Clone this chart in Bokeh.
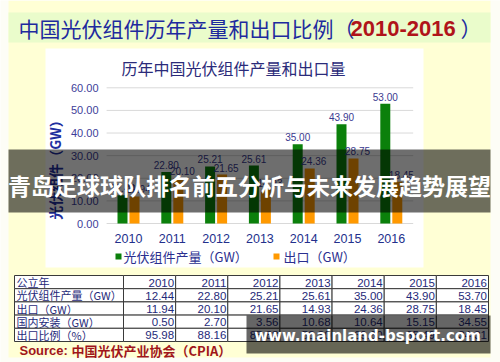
import math
from bokeh.plotting import figure
from bokeh.models import ColumnDataSource, Range1d, BoxAnnotation, Label
from bokeh.transform import dodge
from bokeh.core.properties import value
from bokeh.embed import file_html
from bokeh.resources import INLINE

# ---------------- data ----------------
years = ["2010", "2011", "2012", "2013", "2014", "2015", "2016"]
production = [12.44, 22.80, 25.21, 25.61, 35.00, 43.90, 53.00]   # bars as drawn in chart
export = [11.94, 20.10, 21.65, 14.93, 24.36, 28.75, 18.45]
y_ticks = [0, 10, 20, 30, 40, 50, 60]

main_title = "中国光伏组件历年产量和出口比例"
main_title_years = "2010-2016"
chart_title = "历年中国光伏组件产量和出口量"
y_title = "光伏组件（GW）"
legend_labels = ["光伏组件产量（GW）", "出口（GW）"]
banner_text = "青岛足球球队排名前五分析与未来发展趋势展望"
watermark_text = "www.mainland-bsport.com"
source_prefix = "Source:"
source_text = "中国光伏产业协会（CPIA）"

table_row_labels = ["公立年", "光伏组件产量（GW）", "出口（GW）", "国内安装（GW）", "出口比例（%）"]
table_years = ["2010", "2011", "2012", "2013", "2014", "2015", "2016"]
table_production = ["12.44", "22.80", "25.21", "25.61", "35.00", "43.90", "53.70"]
table_export = ["11.94", "20.10", "21.65", "14.93", "24.36", "28.75", "18.45"]
table_install = ["0.50", "2.70", "3.56", "10.68", "10.64", "15.15", "34.55"]
table_ratio = ["95.98", "88.16", "85.88", "58.30", "69.60", "65.49", "34.31"]

# ---------------- styles / layout ----------------
YELLOW = "#FFFFD5"
PALE = "#FDFDF6"
BAND_GREEN = "#EAFCCB"
GREEN = "#0B800B"
ORANGE = "#FF9900"
NAVY = "#2B2F8F"
CJK = "Noto Sans CJK SC"
LAT = "Liberation Sans"

W, H = 500, 362
# chart geometry (pixels): first category centre, category step, zero line, px per unit
X0, STEP = 128.0, 43.8
Y0, PPU = 223.0, 135.7 / 60.0

xs = list(range(len(years)))
src = ColumnDataSource(dict(
    x=xs, production=production, export=export,
    plab=["%.2f" % v for v in production],
    elab=["%.2f" % v for v in export],
))

p = figure(width=W, height=H,
           x_range=Range1d(-X0 / STEP, (W - X0) / STEP),
           y_range=Range1d(-(H - Y0) / PPU, Y0 / PPU),
           x_axis_location=None, y_axis_location=None,
           output_backend="svg", toolbar_location=None, min_border=0)
p.background_fill_color = PALE
p.border_fill_color = PALE
p.outline_line_color = None
p.grid.visible = False


def box(l, r, t, b, color, alpha=1.0, level="image", line_color=None, line_width=1):
    bx = BoxAnnotation(left=l, right=r, top=t, bottom=b,
                       left_units="canvas", right_units="canvas",
                       top_units="canvas", bottom_units="canvas",
                       fill_color=color, fill_alpha=alpha,
                       line_color=line_color, line_width=line_width,
                       line_alpha=1.0, level=level)
    p.add_layout(bx)
    return bx


def label(x, y, text, size, color, font=CJK, style="normal", align="left",
          baseline="middle", angle=0.0, level="annotation", y_units="canvas"):
    lb = Label(x=x, y=y, x_units="canvas", y_units=y_units, text=text,
               text_font=font, text_font_size="%spx" % size, text_font_style=style,
               text_color=color, text_align=align, text_baseline=baseline,
               angle=angle, level=level)
    p.add_layout(lb)
    return lb


# background decorations
box(8, 490, 0, 357, YELLOW)
box(8, 490, 12, 42, BAND_GREEN)
box(45, 423, 48, 267, "white")

# main title
label(18, 27, main_title, 21, "#1E2A9E")
label(333, 27, "（", 21, "#1E2A9E")
label(350, 28, main_title_years, 22, "#B0141A", font=LAT, style="bold")
label(460, 27, "）", 21, "#1E2A9E")

# chart title
label(233, 67, chart_title, 16, "#2B2B7A", align="center")

# grid lines (from tick values, spanning the categories)
p.segment(x0=[xs[0] - 0.5] * len(y_ticks), x1=[xs[-1] + 0.5] * len(y_ticks),
          y0=y_ticks, y1=y_ticks, line_color="#D9D9D9", line_width=1, level="underlay")

# y tick labels
for t in y_ticks:
    label(98, t, "%.2f" % t, 11, "#3D3D99", font=LAT, align="right", y_units="data")

# bars
p.vbar(x=dodge("x", -0.137), top="production", width=0.228,
       source=src, fill_color=GREEN, line_color=None)
p.vbar(x=dodge("x", 0.137), top="export", width=0.228,
       source=src, fill_color=ORANGE, line_color=None)

p.text(x=dodge("x", -0.137), y="production", text="plab",
       source=src, text_font=value(LAT), text_font_size="10px", text_color="#3A3A90",
       text_align="center", text_baseline="bottom", y_offset=-3)
p.text(x=dodge("x", 0.23), y="export", text="elab",
       source=src, text_font=value(LAT), text_font_size="10px", text_color="#3A3A90",
       text_align="center", text_baseline="bottom", y_offset=-3)

# x (year) labels below the zero line
p.text(x=xs, y=[0] * len(xs), text=years, text_font=value(LAT), text_font_size="12.5px",
       text_color="#23308C", text_align="center", text_baseline="middle", y_offset=15)

# y axis title
label(54, 166, y_title, 14, "#1F2F9F", style="bold", align="center", angle=math.pi / 2)

# legend
box(115, 121, 253, 259, GREEN, level="annotation")
label(123, 256, legend_labels[0], 13, NAVY)
box(273, 279, 253, 259, ORANGE, level="annotation")
label(283, 256, legend_labels[1], 13, NAVY)

# table
col_edges = [14, 123] + [123 + 365.0 / 7 * k for k in range(1, 8)]
row_h = 13.2
row_top = 275
rows_values = [table_years, table_production, table_export, table_install, table_ratio]
for r, (rlab, vals) in enumerate(zip(table_row_labels, rows_values)):
    t = row_top + r * row_h
    b = t + row_h
    for c in range(len(col_edges) - 1):
        box(col_edges[c], col_edges[c + 1], t, b, "white", level="annotation",
            line_color="#3A3A3A", line_width=1)
    label(col_edges[0] + 2, (t + b) / 2, rlab, 11, "#1F2A7A")
    for c, v in enumerate(vals):
        label(col_edges[c + 2] - 1.5, (t + b) / 2 + 0.5, v, 11.5, "#1F2A7A",
              font=LAT, align="right")

# source line
label(19, 350, source_prefix, 13, "#A0161B", font=LAT, style="bold")
label(71, 350, source_text, 13, "#A0161B", style="bold")

# overlays
box(8, 490, 149, 212, "black", alpha=0.57, level="overlay")
label(249, 184, banner_text, 23, "white", style="bold", align="center", level="overlay")

box(246, 490, 315, 353, "black", alpha=0.6, level="overlay")
label(367, 335, watermark_text, 15, "white", font="DejaVu Sans", style="bold",
      align="center", level="overlay")

open("out.html", "w").write(file_html(p, INLINE))
